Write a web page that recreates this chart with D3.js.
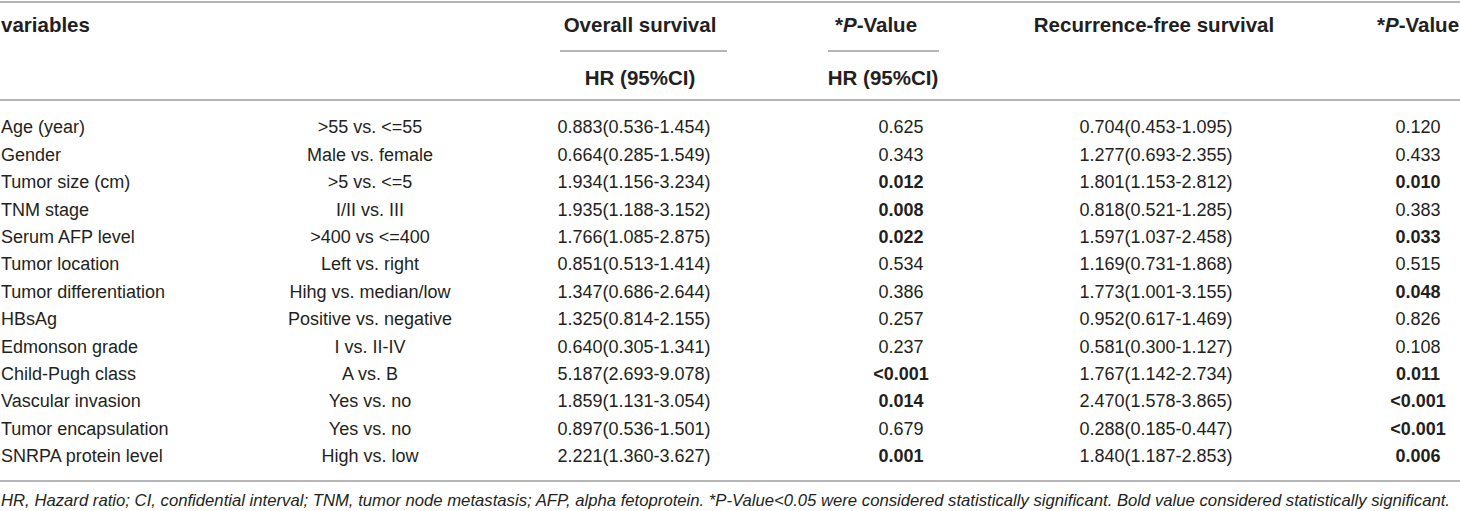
<!DOCTYPE html>
<html>
<head>
<meta charset="utf-8">
<script src="https://cdn.jsdelivr.net/npm/d3@7"></script>
<style>
  body { margin: 0; background: #fff; }
  svg { display: block; }
  text { font-family: "Liberation Sans", Arial, sans-serif; fill: #231f20; }
</style>
</head>
<body>
<svg></svg>
<script>
// table data
var variables = ["Age (year)", "Gender", "Tumor size (cm)", "TNM stage", "Serum AFP level",
  "Tumor location", "Tumor differentiation", "HBsAg", "Edmonson grade", "Child-Pugh class",
  "Vascular invasion", "Tumor encapsulation", "SNRPA protein level"];
var comparisons = [">55 vs. <=55", "Male vs. female", ">5 vs. <=5", "I/II vs. III", ">400 vs <=400",
  "Left vs. right", "Hihg vs. median/low", "Positive vs. negative", "I vs. II-IV", "A vs. B",
  "Yes vs. no", "Yes vs. no", "High vs. low"];
var osHR = ["0.883(0.536-1.454)", "0.664(0.285-1.549)", "1.934(1.156-3.234)", "1.935(1.188-3.152)",
  "1.766(1.085-2.875)", "0.851(0.513-1.414)", "1.347(0.686-2.644)", "1.325(0.814-2.155)",
  "0.640(0.305-1.341)", "5.187(2.693-9.078)", "1.859(1.131-3.054)", "0.897(0.536-1.501)",
  "2.221(1.360-3.627)"];
var osP = ["0.625", "0.343", "0.012", "0.008", "0.022", "0.534", "0.386", "0.257", "0.237",
  "<0.001", "0.014", "0.679", "0.001"];
var rfsHR = ["0.704(0.453-1.095)", "1.277(0.693-2.355)", "1.801(1.153-2.812)", "0.818(0.521-1.285)",
  "1.597(1.037-2.458)", "1.169(0.731-1.868)", "1.773(1.001-3.155)", "0.952(0.617-1.469)",
  "0.581(0.300-1.127)", "1.767(1.142-2.734)", "2.470(1.578-3.865)", "0.288(0.185-0.447)",
  "1.840(1.187-2.853)"];
var rfsP = ["0.120", "0.433", "0.010", "0.383", "0.033", "0.515", "0.048", "0.826", "0.108",
  "0.011", "<0.001", "<0.001", "0.006"];
var footnote = "HR, Hazard ratio; CI, confidential interval; TNM, tumor node metastasis; AFP, alpha fetoprotein. *P-Value<0.05 were considered statistically significant. Bold value considered statistically significant.";

var width = 1460, height = 511, fontSize = 18, headSize = 20.5;
var svg = d3.select("svg").attr("width", width).attr("height", height);

var y = d3.scalePoint().domain(d3.range(variables.length)).range([127, 456]);

// column anchors
var cols = [
  {x: 1, anchor: "start", vals: variables},
  {x: 370, anchor: "middle", vals: comparisons},
  {x: 634, anchor: "middle", vals: osHR},
  {x: 901, anchor: "middle", vals: osP, p: true},
  {x: 1156, anchor: "middle", vals: rfsHR},
  {x: 1418, anchor: "middle", vals: rfsP, p: true}
];

function sig(v) {
  if (v.charAt(0) == "<") return true;
  return +v < 0.05;
}

function rule(x1, x2, yy) {
  svg.append("line").attr("x1", x1).attr("x2", x2).attr("y1", yy).attr("y2", yy)
    .attr("stroke", "#9d9d9d").attr("stroke-width", 1.6);
}
rule(0, width, 2);
rule(560, 727, 51);
rule(828, 939, 51);
rule(0, width, 100);
rule(0, width, 481);

// header
var head = [
  {t: "variables", x: 1, y: 25, a: "start"},
  {t: "Overall survival", x: 640, y: 25, a: "middle"},
  {t: "*|P|-Value", x: 876, y: 25, a: "middle"},
  {t: "Recurrence-free survival", x: 1154, y: 25, a: "middle"},
  {t: "*|P|-Value", x: 1418, y: 25, a: "middle"},
  {t: "HR (95%CI)", x: 640, y: 78, a: "middle"},
  {t: "HR (95%CI)", x: 883, y: 78, a: "middle"}
];
head.forEach(function(h) {
  var t = svg.append("text").attr("x", h.x).attr("y", h.y).attr("dy", "0.35em")
    .attr("text-anchor", h.a).attr("font-size", headSize).attr("font-weight", "bold");
  h.t.split("|").forEach(function(part, i) {
    t.append("tspan").text(part).attr("font-style", i == 1 ? "italic" : null);
  });
});

// body cells
cols.forEach(function(c) {
  svg.append("g").selectAll("text")
    .data(c.vals)
    .enter()
    .append("text")
    .attr("x", c.x)
    .attr("y", function(d, i) { return y(i); })
    .attr("dy", "0.35em")
    .attr("text-anchor", c.anchor)
    .attr("font-size", fontSize)
    .attr("font-weight", function(d) { return c.p && sig(d) ? "bold" : null; })
    .text(function(d) { return d; });
});

// footnote
svg.append("text").attr("x", 1).attr("y", 500).attr("dy", "0.35em")
  .attr("font-size", 16.5).attr("font-style", "italic")
  .attr("textLength", 1449).attr("lengthAdjust", "spacingAndGlyphs")
  .text(footnote);
</script>
</body>
</html>
